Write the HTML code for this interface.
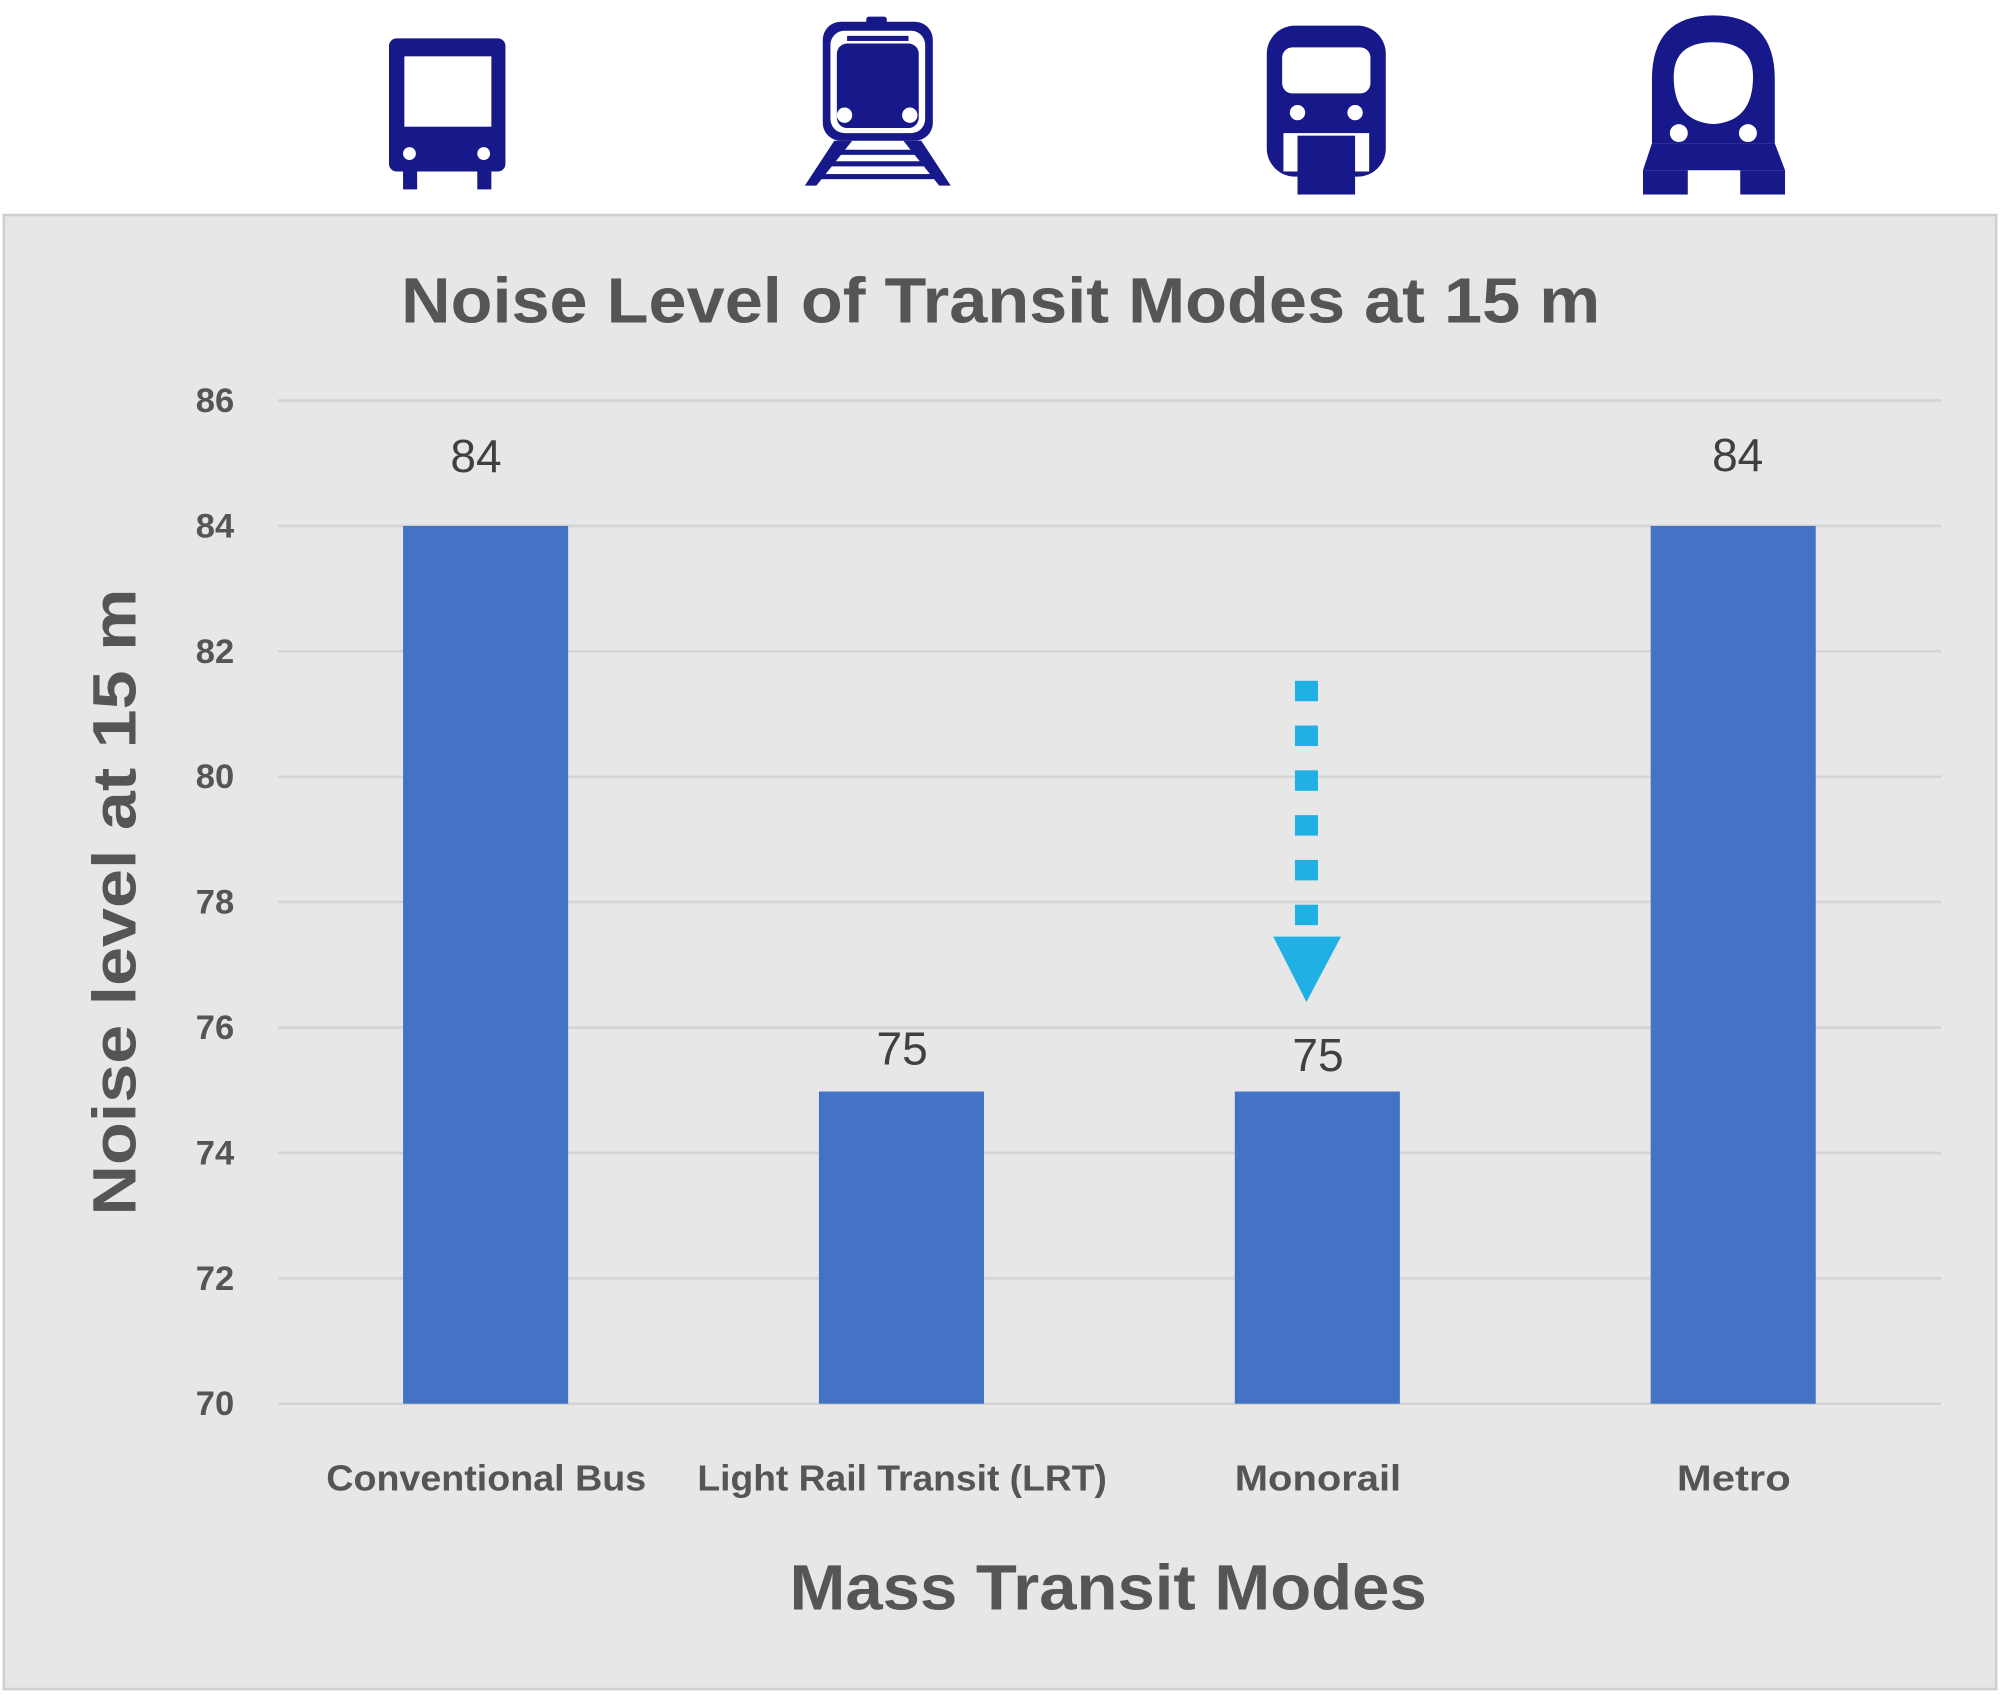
<!DOCTYPE html>
<html><head><meta charset="utf-8"><style>
html,body{margin:0;padding:0;background:#fff;}
svg{display:block;}
text{font-family:"Liberation Sans",sans-serif;}
</style></head><body>
<svg width="2000" height="1695" viewBox="0 0 1563 1324.6" xmlns="http://www.w3.org/2000/svg">
<rect x="0" y="0" width="1563" height="1325" fill="#fff"/>
<rect x="3" y="168" width="1557" height="1152" fill="#e7e7e7" stroke="#d0d0d0" stroke-width="2"/>
<g fill="#17198a">
 <rect x="304" y="30" width="91" height="104" rx="6"/>
 <rect x="316" y="44" width="68" height="55" fill="#fff"/>
 <circle cx="320" cy="120" r="5" fill="#fff"/><circle cx="378" cy="120" r="5" fill="#fff"/>
 <rect x="315" y="130" width="11" height="18"/><rect x="373" y="130" width="11" height="18"/>
 <rect x="677" y="13" width="16" height="6" rx="2"/>
 <rect x="643" y="17" width="86" height="93" rx="14"/>
 <rect x="649" y="24" width="74" height="80" rx="11" fill="#fff"/>
 <rect x="654" y="34" width="64" height="66" rx="8"/>
 <rect x="662" y="28" width="48" height="4" fill="#17198a"/>
 <circle cx="660" cy="90" r="6" fill="#fff"/><circle cx="711" cy="90" r="6" fill="#fff"/>
 <polygon points="652,110 666,110 638,145 629,145"/>
 <polygon points="720,110 706,110 734,145 743,145"/>
 <rect x="654" y="117" width="64" height="4"/><rect x="648" y="126" width="76" height="4"/><rect x="642" y="136" width="88" height="4"/>
 <rect x="990" y="20" width="93" height="118" rx="22"/>
 <rect x="1002" y="37" width="69" height="36" rx="8" fill="#fff"/>
 <circle cx="1014" cy="88" r="6" fill="#fff"/><circle cx="1059" cy="88" r="6" fill="#fff"/>
 <rect x="1003" y="104" width="67" height="30" fill="#fff"/>
 <rect x="1014" y="106" width="45" height="46"/>
 <path d="M1291,62 Q1291,12 1339,12 Q1387,12 1387,62 L1387,112 L1291,112 Z"/>
 <path d="M1308,60 Q1308,33 1339,33 Q1370,33 1370,60 Q1370,95 1339,97 Q1308,95 1308,60 Z" fill="#fff"/>
 <circle cx="1312" cy="104" r="7" fill="#fff"/><circle cx="1366" cy="104" r="7" fill="#fff"/>
 <polygon points="1291,112 1387,112 1395,133 1284,133"/>
 <rect x="1284" y="133" width="35" height="19"/><rect x="1360" y="133" width="35" height="19"/>
</g>
<text x="782" y="252" text-anchor="middle" font-size="50" font-weight="bold" fill="#555" textLength="937" lengthAdjust="spacingAndGlyphs">Noise Level of Transit Modes at 15 m</text>
<g stroke="#d4d4d4" stroke-width="2">
 <line x1="217" y1="313" x2="1517" y2="313"/><line x1="217" y1="411" x2="1517" y2="411"/>
 <line x1="217" y1="509" x2="1517" y2="509"/><line x1="217" y1="607" x2="1517" y2="607"/>
 <line x1="217" y1="705" x2="1517" y2="705"/><line x1="217" y1="803" x2="1517" y2="803"/>
 <line x1="217" y1="901" x2="1517" y2="901"/><line x1="217" y1="999" x2="1517" y2="999"/>
 <line x1="217" y1="1097" x2="1517" y2="1097"/>
</g>
<g font-size="27" font-weight="bold" fill="#555" text-anchor="end">
 <text x="183" y="322">86</text><text x="183" y="420">84</text><text x="183" y="518">82</text>
 <text x="183" y="616">80</text><text x="183" y="714">78</text><text x="183" y="812">76</text>
 <text x="183" y="910">74</text><text x="183" y="1008">72</text><text x="183" y="1106">70</text>
</g>
<g fill="#4472c4">
 <rect x="315" y="411" width="129" height="686"/>
 <rect x="640" y="853" width="129" height="244"/>
 <rect x="965" y="853" width="129" height="244"/>
 <rect x="1290" y="411" width="129" height="686"/>
</g>
<g font-size="36" fill="#404040" text-anchor="middle">
 <text x="372" y="369">84</text><text x="705" y="832">75</text>
 <text x="1030" y="837">75</text><text x="1358" y="368">84</text>
</g>
<g fill="#21b0e4">
 <rect x="1012" y="532" width="18" height="16"/><rect x="1012" y="567" width="18" height="16"/>
 <rect x="1012" y="602" width="18" height="16"/><rect x="1012" y="637" width="18" height="16"/>
 <rect x="1012" y="672" width="18" height="16"/><rect x="1012" y="707" width="18" height="16"/>
 <polygon points="995,732 1048,732 1021,783"/>
</g>
<g font-size="28" font-weight="bold" fill="#555" text-anchor="middle">
 <text x="380" y="1165" textLength="250" lengthAdjust="spacingAndGlyphs">Conventional Bus</text>
 <text x="705" y="1165" textLength="320" lengthAdjust="spacingAndGlyphs">Light Rail Transit (LRT)</text>
 <text x="1030" y="1165" textLength="130" lengthAdjust="spacingAndGlyphs">Monorail</text>
 <text x="1355" y="1165" textLength="89" lengthAdjust="spacingAndGlyphs">Metro</text>
</g>
<text x="866" y="1258" text-anchor="middle" font-size="50" font-weight="bold" fill="#555" textLength="498" lengthAdjust="spacingAndGlyphs">Mass Transit Modes</text>
<text transform="translate(106,705) rotate(-90)" text-anchor="middle" font-size="48" font-weight="bold" fill="#555" textLength="490" lengthAdjust="spacingAndGlyphs">Noise level at 15 m</text>
</svg>
</body></html>
